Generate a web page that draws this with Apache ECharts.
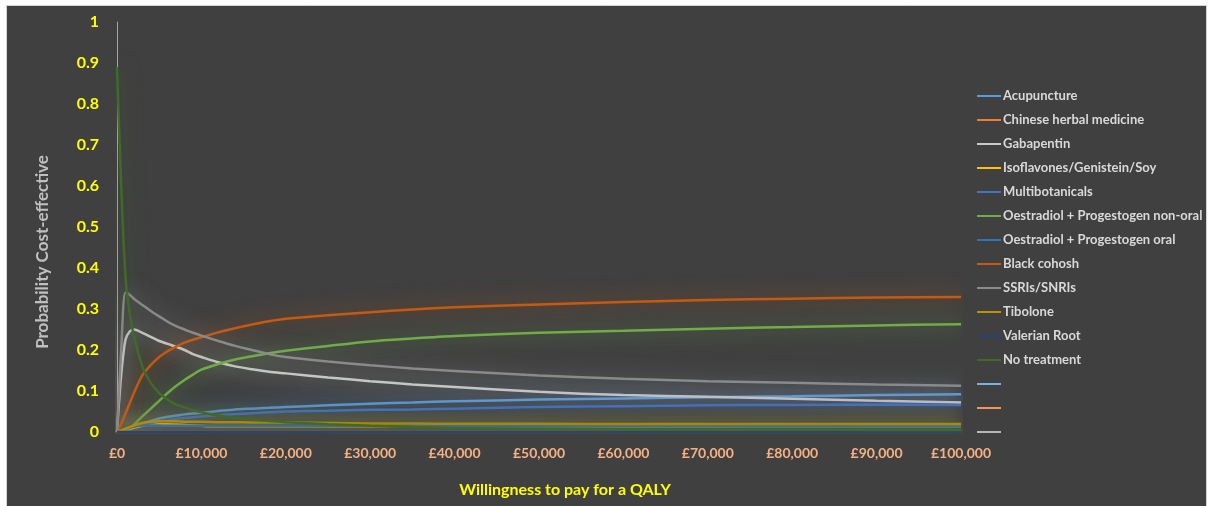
<!DOCTYPE html>
<html>
<head>
<meta charset="utf-8">
<script src="https://cdn.jsdelivr.net/npm/echarts@6/dist/echarts.min.js"></script>
<style>
  html, body { margin: 0; padding: 0; background: #ffffff; }
  #chart { width: 1210px; height: 506px; }
</style>
</head>
<body>
<div id="chart"></div>
<script>
// Willingness to pay (GBP) sample points
const wtp = [0, 500, 1000, 1500, 2000, 3000, 4000, 5000, 6000, 7000, 8000, 9000, 10000,
  12000, 14000, 16000, 18000, 20000, 25000, 30000, 35000, 40000, 50000, 60000, 70000, 80000, 90000, 100000];

const xTickLabels = ['£0', '£10,000', '£20,000', '£30,000', '£40,000', '£50,000', '£60,000', '£70,000', '£80,000', '£90,000', '£100,000'];
const xTitle = 'Willingness to pay for a QALY';
const yTitle = 'Probability Cost-effective';

const acupuncture = [0, 0.001, 0.004, 0.008, 0.012, 0.02, 0.027, 0.033, 0.037, 0.04, 0.043, 0.045, 0.047,
  0.051, 0.055, 0.057, 0.059, 0.061, 0.065, 0.069, 0.072, 0.075, 0.079, 0.082, 0.085, 0.087, 0.09, 0.092];
const chineseHerbal = [0, 0, 0, 0, 0, 0, 0, 0, 0, 0, 0, 0, 0,
  0, 0, 0, 0, 0, 0, 0, 0, 0, 0, 0, 0, 0, 0, 0];
const gabapentin = [0, 0.14, 0.225, 0.245, 0.25, 0.242, 0.232, 0.222, 0.215, 0.208, 0.2, 0.19, 0.183,
  0.17, 0.16, 0.153, 0.147, 0.143, 0.133, 0.124, 0.116, 0.11, 0.098, 0.09, 0.086, 0.081, 0.076, 0.072];
const isoflavones = [0, 0.002, 0.004, 0.007, 0.01, 0.015, 0.018, 0.019, 0.019, 0.018, 0.017, 0.016, 0.015,
  0.014, 0.014, 0.014, 0.014, 0.014, 0.014, 0.014, 0.014, 0.014, 0.014, 0.014, 0.014, 0.014, 0.014, 0.014];
const multibotanicals = [0, 0.003, 0.006, 0.01, 0.013, 0.018, 0.022, 0.026, 0.029, 0.032, 0.034, 0.036, 0.038,
  0.041, 0.044, 0.046, 0.048, 0.05, 0.052, 0.054, 0.055, 0.057, 0.061, 0.063, 0.065, 0.066, 0.067, 0.066];
const oestNonOral = [0, 0, 0.002, 0.008, 0.018, 0.038, 0.057, 0.076, 0.095, 0.112, 0.127, 0.14, 0.152,
  0.166, 0.177, 0.185, 0.192, 0.198, 0.21, 0.221, 0.228, 0.234, 0.242, 0.247, 0.252, 0.256, 0.26, 0.263];
const oestOral = [0, 0.004, 0.008, 0.011, 0.014, 0.016, 0.016, 0.016, 0.015, 0.015, 0.015, 0.015, 0.015,
  0.015, 0.015, 0.015, 0.015, 0.015, 0.015, 0.015, 0.015, 0.015, 0.0145, 0.0145, 0.0145, 0.014, 0.014, 0.014];
const blackCohosh = [0, 0.02, 0.045, 0.07, 0.095, 0.138, 0.163, 0.183, 0.197, 0.208, 0.218, 0.225, 0.231,
  0.243, 0.253, 0.262, 0.27, 0.276, 0.285, 0.292, 0.299, 0.304, 0.311, 0.317, 0.322, 0.325, 0.328, 0.329];
const ssris = [0, 0.2, 0.34, 0.335, 0.325, 0.31, 0.295, 0.282, 0.269, 0.258, 0.25, 0.242, 0.235,
  0.222, 0.21, 0.2, 0.19, 0.183, 0.172, 0.163, 0.155, 0.149, 0.138, 0.13, 0.124, 0.12, 0.116, 0.113];
const tibolone = [0, 0.004, 0.008, 0.012, 0.016, 0.022, 0.025, 0.026, 0.026, 0.026, 0.025, 0.025, 0.025,
  0.024, 0.024, 0.023, 0.023, 0.023, 0.022, 0.021, 0.0205, 0.02, 0.02, 0.0195, 0.0195, 0.0195, 0.0195, 0.0195];
const valerian = [0, 0, 0, 0, 0, 0, 0, 0, 0, 0, 0, 0, 0,
  0, 0, 0, 0, 0, 0, 0, 0, 0, 0, 0, 0, 0, 0, 0];
const noTreatment = [0.89, 0.6, 0.38, 0.29, 0.235, 0.16, 0.12, 0.095, 0.079, 0.067, 0.06, 0.053, 0.048,
  0.04, 0.034, 0.03, 0.027, 0.024, 0.019, 0.015, 0.012, 0.0095, 0.008, 0.007, 0.006, 0.006, 0.005, 0.005];

const seriesNames = ['Acupuncture', 'Chinese herbal medicine', 'Gabapentin', 'Isoflavones/Genistein/Soy',
  'Multibotanicals', 'Oestradiol + Progestogen non-oral', 'Oestradiol + Progestogen oral', 'Black cohosh',
  'SSRIs/SNRIs', 'Tibolone', 'Valerian Root', 'No treatment', ' ', '  ', '   '];
const seriesValues = [acupuncture, chineseHerbal, gabapentin, isoflavones, multibotanicals, oestNonOral,
  oestOral, blackCohosh, ssris, tibolone, valerian, noTreatment, [], [], []];
const seriesColors = ['#5B9BD5', '#ED7D31', '#C9C9C9', '#FFC000', '#4472C4', '#70AD47',
  '#2E75B6', '#C55A11', '#8A8A8A', '#BF9000', '#264478', '#43682B', '#7CAFDD', '#F1975A', '#B7B7B7'];

function hexToRgba(hex, a) {
  const n = parseInt(hex.slice(1), 16);
  return 'rgba(' + ((n >> 16) & 255) + ',' + ((n >> 8) & 255) + ',' + (n & 255) + ',' + a + ')';
}

const series = seriesNames.map((name, i) => ({
  name: name,
  type: 'line',
  smooth: 0.3,
  showSymbol: false,
  symbol: 'none',
  color: seriesColors[i],
  data: seriesValues[i].map((v, j) => [wtp[j], v]),
  lineStyle: {
    width: 2.5,
    color: seriesColors[i],
    shadowBlur: 20,
    shadowColor: hexToRgba(seriesColors[i], 0.9)
  },
  emphasis: { disabled: true }
}));

const chart = echarts.init(document.getElementById('chart'), null, { renderer: 'canvas' });
chart.setOption({
  animation: false,
  backgroundColor: '#ffffff',
  textStyle: { fontFamily: 'Lato, "DejaVu Sans", sans-serif' },
  graphic: [{
    type: 'rect',
    z: -10,
    silent: true,
    shape: { x: 6.5, y: 5.5, width: 1200, height: 502 },
    style: { fill: '#404040', stroke: '#d4d4d4', lineWidth: 1 }
  }, {
    type: 'text',
    silent: true,
    x: 565,
    y: 490,
    style: {
      text: xTitle, fill: '#ffff00', font: 'bold 16px Lato, sans-serif',
      align: 'center', verticalAlign: 'middle'
    }
  }, {
    type: 'text',
    silent: true,
    x: 43,
    y: 252,
    rotation: Math.PI / 2,
    style: {
      text: yTitle, fill: '#bfbfbf', font: 'bold 17px Lato, sans-serif',
      align: 'center', verticalAlign: 'middle'
    }
  }],
  grid: { left: 117, right: 249, top: 22, bottom: 74, containLabel: false },
  legend: {
    orient: 'vertical',
    left: 977,
    top: 89,
    padding: 0,
    icon: 'rect',
    itemWidth: 24,
    itemHeight: 2,
    itemGap: 10,
    data: seriesNames,
    textStyle: {
      color: '#d9d9d9',
      fontSize: 13,
      fontWeight: 'bold',
      lineHeight: 14,
      fontFamily: 'Lato, sans-serif',
      padding: [0, 0, 0, -3]
    }
  },
  xAxis: {
    type: 'value',
    min: 0,
    max: 100000,
    interval: 10000,
    axisLine: { show: false },
    axisTick: { show: false },
    splitLine: { show: false },
    axisLabel: {
      color: '#F4B183',
      fontSize: 14,
      fontWeight: 'bold',
      margin: 14,
      fontFamily: 'Lato, sans-serif',
      formatter: (v) => xTickLabels[Math.round(v / 10000)]
    }
  },
  yAxis: {
    type: 'value',
    min: 0,
    max: 1,
    interval: 0.1,
    axisLine: { show: true, lineStyle: { color: '#a6a6a6', width: 1 } },
    axisTick: { show: false },
    splitLine: { show: false },
    axisLabel: {
      color: '#ffff00',
      fontSize: 16,
      fontWeight: 'bold',
      margin: 18,
      fontFamily: 'Lato, sans-serif',
      formatter: (v) => String(Math.round(v * 10) / 10)
    }
  },
  series: series
});
</script>
</body>
</html>
